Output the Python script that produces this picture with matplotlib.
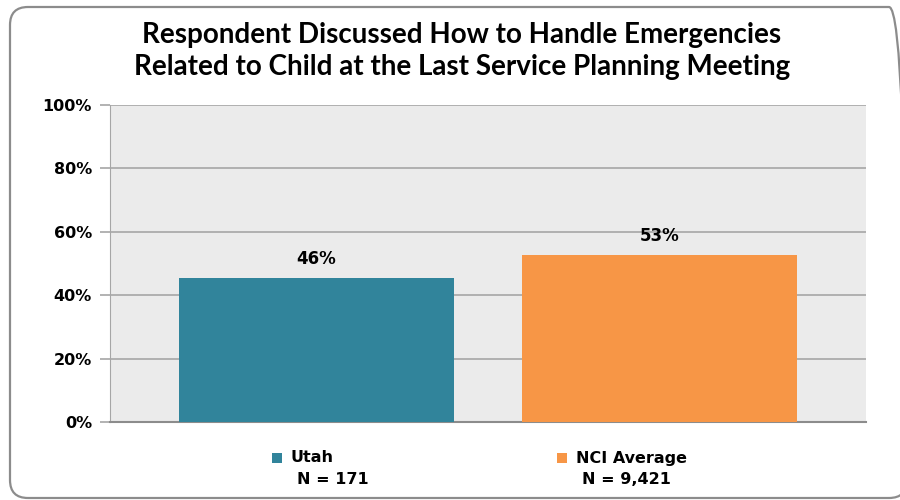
import matplotlib
matplotlib.use('Agg')
import matplotlib.pyplot as plt
from matplotlib.patches import FancyBboxPatch, Rectangle

# data
groups = ['Utah', 'NCI Average']
n_labels = ['N = 171', 'N = 9,421']
values = [45.5, 52.7]
value_labels = ['46%', '53%']
colors = ['#31849B', '#F79646']
yticks = [0, 20, 40, 60, 80, 100]

fig = plt.figure(figsize=(9, 5), dpi=100)
ax = fig.add_axes([0.1222, 0.156, 0.84, 0.634])

# outer rounded frame (inches)
frame = FancyBboxPatch((0.10, 0.02), 8.97, 4.91,
                       boxstyle='round,pad=0,rounding_size=0.18',
                       transform=fig.dpi_scale_trans, fill=False, edgecolor='#8C8C8C',
                       linewidth=1.6)
fig.patches.append(frame)

ax.set_facecolor('#EBEBEB')
x = range(len(groups))
bars = ax.bar(x, values, width=0.8, color=colors, zorder=3)
for xi, v, lab in zip(x, values, value_labels):
    ax.text(xi, v + 3, lab, ha='center', va='bottom', fontsize=12, fontweight='bold')

ax.set_xlim(-0.6, 1.6)
ax.set_ylim(0, 100)
ax.set_yticks(yticks)
ax.set_yticklabels([f'{t}%' for t in yticks], fontsize=11.5, fontweight='bold')
ax.set_xticks([])
ax.grid(axis='y', color='#A6A6A6', linewidth=1.2, zorder=0)
ax.tick_params(axis='y', length=7, color='#A6A6A6', width=1.2, pad=6)
for s in ['top', 'right']:
    ax.spines[s].set_visible(False)
ax.spines['left'].set_color('#A6A6A6')
ax.spines['bottom'].set_color('#8C8C8C')
ax.spines['bottom'].set_linewidth(1.5)

fig.text(0.513, 0.898, 'Respondent Discussed How to Handle Emergencies\nRelated to Child at the Last Service Planning Meeting',
         ha='center', va='center', fontsize=20, fontweight='bold', family='Lato', linespacing=1.3)

# legend below
leg_x = [272 / 900, 557 / 900]
for lx, g, nl, c in zip(leg_x, groups, n_labels, colors):
    fig.patches.append(Rectangle((lx, 1 - 463 / 500), 10 / 900, 10 / 500, transform=fig.transFigure,
                                 facecolor=c, edgecolor='none'))
    fig.text(lx + 19 / 900, 1 - 458 / 500, g, ha='left', va='center', fontsize=11.5, fontweight='bold')
    fig.text(lx + 25 / 900, 1 - 480 / 500, nl, ha='left', va='center', fontsize=11.5, fontweight='bold')

fig.savefig('out.png', dpi=100)
